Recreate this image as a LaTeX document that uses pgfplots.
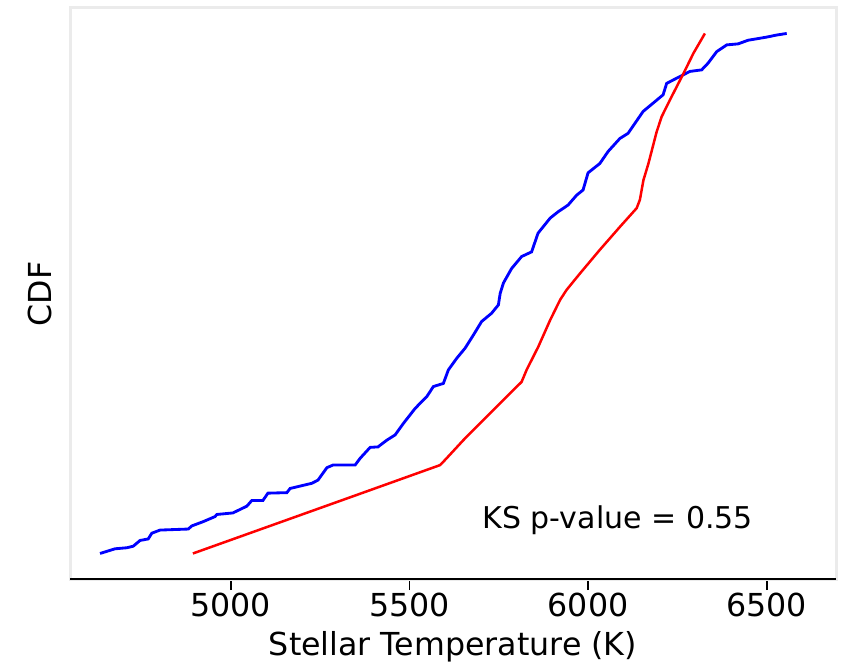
\documentclass[border=0pt]{standalone}
\usepackage{pgfplots}
\pgfplotsset{compat=1.18}
\usepackage{fontspec}
\setmainfont{DejaVu Sans}
\definecolor{spinegray}{HTML}{EBEBEB}
\begin{document}
\begin{tikzpicture}
\begin{axis}[
  name=ax,
  scale only axis,
  width=229.8pt, height=171.6pt,
  xmin=4550, xmax=6694, ymin=-0.051, ymax=1.049,
  xtick={5000,5500,6000,6500},
  ytick=\empty,
  xtick align=outside,
  xtick pos=bottom,
  major tick length=3pt,
  tick style={black, line width=0.5pt},
  axis line style={draw=spinegray, line width=0.9pt},
  /pgf/number format/assume math mode=true,
  /pgf/number format/1000 sep={},
  xticklabel style={font=\fontsize{9.5}{11}\selectfont, inner sep=0.8pt},
  xlabel={Stellar Temperature (K)},
  ylabel={CDF},
  xlabel style={font=\fontsize{9.5}{11}\selectfont, at={(axis description cs:0.5,0)}, anchor=base, yshift=-22.5pt},
  ylabel style={font=\fontsize{9.5}{11}\selectfont, at={(axis description cs:0,0.5)}, anchor=center, yshift=9pt},
]
\addplot[blue, line width=0.85pt] coordinates {
(4634,0.000) (4676,0.009) (4709,0.011) (4727,0.014) (4746,0.025) (4769,0.028)
(4779,0.039) (4802,0.045) (4881,0.047) (4891,0.053) (4922,0.061) (4956,0.071)
(4961,0.075) (5006,0.078) (5045,0.091) (5059,0.102) (5090,0.102) (5104,0.116)
(5157,0.117) (5166,0.125) (5227,0.135) (5244,0.141) (5269,0.165) (5286,0.170)
(5348,0.170) (5362,0.183) (5390,0.204) (5412,0.205) (5437,0.218) (5460,0.228)
(5483,0.250) (5516,0.279) (5549,0.302) (5567,0.321) (5595,0.327) (5609,0.353)
(5632,0.375) (5656,0.395) (5679,0.420) (5702,0.446) (5730,0.462) (5749,0.478)
(5754,0.500) (5763,0.520) (5786,0.548) (5814,0.571) (5842,0.580) (5860,0.616)
(5894,0.645) (5916,0.657) (5944,0.670) (5968,0.689) (5986,0.699) (6000,0.732)
(6033,0.750) (6056,0.773) (6089,0.798) (6112,0.808) (6154,0.850) (6182,0.866)
(6210,0.882) (6220,0.904) (6248,0.914) (6285,0.927) (6318,0.930) (6336,0.943)
(6360,0.965) (6388,0.978) (6420,0.980) (6448,0.987) (6500,0.993) (6528,0.997)
(6556,1.000)
};
\addplot[red, line width=0.75pt] coordinates {
(4894,0.000) (5334,0.108) (5586,0.170) (5604,0.183) (5651,0.218) (5716,0.263)
(5763,0.295) (5814,0.330) (5828,0.353) (5861,0.398) (5894,0.449) (5922,0.488)
(5940,0.507) (5978,0.539) (6033,0.584) (6089,0.628) (6136,0.664) (6145,0.680)
(6155,0.718) (6169,0.750) (6192,0.811) (6206,0.840) (6229,0.872) (6267,0.923)
(6295,0.962) (6327,1.000)
};
\draw[black, line width=0.9pt] (rel axis cs:0,0) -- (rel axis cs:1,0);
\node[anchor=west, inner sep=0pt, font=\fontsize{9}{11}\selectfont] at (axis cs:5703,0.064) {KS p-value = 0.55};
\end{axis}
\pgfresetboundingbox
\path ([xshift=-21pt,yshift=-25.8pt]ax.south west) rectangle ([xshift=2.4pt,yshift=2.4pt]ax.north east);
\end{tikzpicture}
\end{document}
